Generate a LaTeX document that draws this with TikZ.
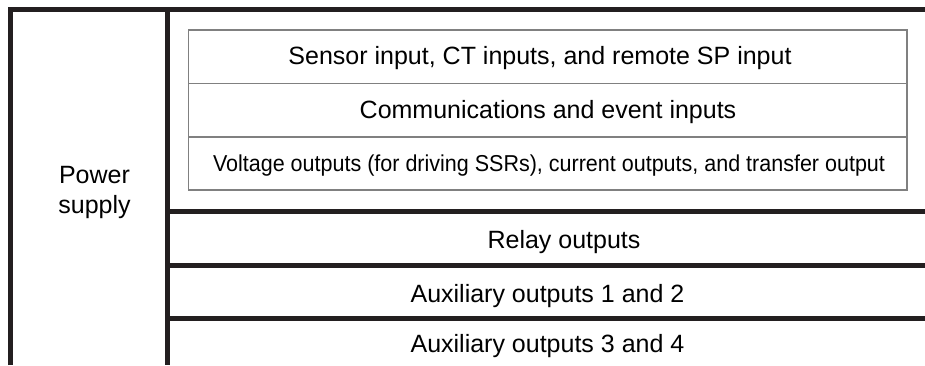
\documentclass[tikz,border=0pt]{standalone}
\usepackage{fontspec}
\setmainfont{Liberation Sans}
\usepackage{graphicx}
\definecolor{ink}{HTML}{231F20}
\definecolor{boxline}{HTML}{808080}
\begin{document}
\begin{tikzpicture}[x=1pt,y=-1pt,
  thick line/.style={draw=ink,line width=5pt,line cap=butt},
  thin box/.style={draw=boxline,line width=1.3pt},
  label text/.style={anchor=base,inner sep=0pt,font=\fontsize{25}{30}\selectfont,text=black}]
\useasboundingbox (0,0) rectangle (925,365);
% structure coordinates
\coordinate (lt) at (10,9.5);
\coordinate (lb) at (10,365);
\coordinate (rt) at (925,9.5);
\coordinate (mt) at (167.5,9.5);
\coordinate (mb) at (167.5,365);
\coordinate (h1l) at (167.5,211.5);
\coordinate (h1r) at (925,211.5);
\coordinate (h2l) at (167.5,265);
\coordinate (h2r) at (925,265);
\coordinate (h3l) at (167.5,318.5);
\coordinate (h3r) at (925,318.5);
\coordinate (bl) at (188.7,30);
\coordinate (br) at (907,190);
\coordinate (r1l) at (188.7,83.5);
\coordinate (r1r) at (907,83.5);
\coordinate (r2l) at (188.7,137);
\coordinate (r2r) at (907,137);
% thick frame
\draw[thick line,line join=miter] (lb) -- (lt) -- (rt);
\draw[thick line] (mt) -- (mb);
\draw[thick line] (h1l) -- (h1r);
\draw[thick line] (h2l) -- (h2r);
\draw[thick line] (h3l) -- (h3r);
% inner box
\draw[thin box] (bl) rectangle (br);
\draw[thin box] (r1l) -- (r1r);
\draw[thin box] (r2l) -- (r2r);
% texts
\node[label text] (power) at (94.5,183) {Power};
\node[label text] (supply) at (94.5,213) {supply};
\node[label text] (sensor) at (540,64) {Sensor input, CT inputs, and remote SP input};
\node[label text] (comm) at (548,118) {Communications and event inputs};
\node[label text,font=\fontsize{23}{28}\selectfont] (volt) at (549,171.5) {\resizebox{672pt}{\height}{Voltage outputs (for driving SSRs), current outputs, and transfer output}};
\node[label text] (relay) at (564,248) {Relay outputs};
\node[label text] (aux12) at (547.5,302) {Auxiliary outputs 1 and 2};
\node[label text] (aux34) at (547.5,352) {Auxiliary outputs 3 and 4};
\end{tikzpicture}
\end{document}
